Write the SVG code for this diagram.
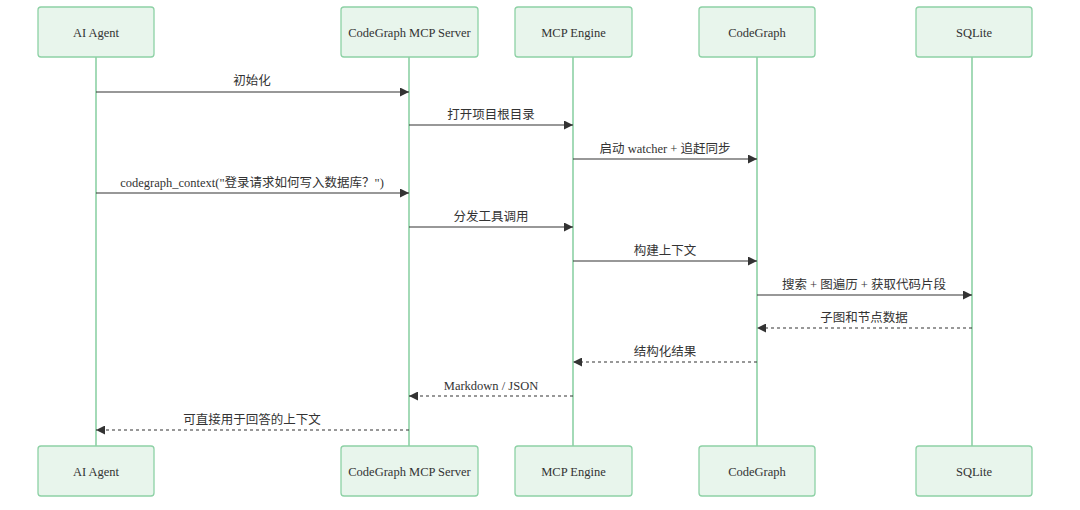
<svg xmlns="http://www.w3.org/2000/svg" width="1080" height="510" viewBox="0 0 1080 510">
<style>
.box{fill:#e8f5ec;stroke:#8dd1a5;stroke-width:1.3}
.life{stroke:#8dd1a5;stroke-width:1.6}
.t{font-family:"Liberation Serif","Noto Sans CJK SC",serif;font-size:12.5px;fill:#333;text-anchor:middle}
.m{stroke:#333;stroke-width:1.2;fill:none}
.d{stroke-dasharray:3,3}
</style>
<defs>
<marker id="ah" viewBox="0 0 10 10" refX="10" refY="5" markerWidth="9" markerHeight="9" markerUnits="userSpaceOnUse" orient="auto"><path d="M0,0 L10,5 L0,10 z" fill="#333"/></marker>
</defs>
<rect width="1080" height="510" fill="#fff"/>
<g id="lifelines">
<line class="life" x1="96" y1="57" x2="96" y2="446"/>
<line class="life" x1="409" y1="57" x2="409" y2="446"/>
<line class="life" x1="573" y1="57" x2="573" y2="446"/>
<line class="life" x1="757" y1="57" x2="757" y2="446"/>
<line class="life" x1="972" y1="57" x2="972" y2="446"/>
</g>
<g id="agent">
<rect class="box" x="38" y="7" width="116" height="50" rx="3"/><text class="t" x="96" y="37">AI Agent</text>
<rect class="box" x="38" y="446" width="116" height="50" rx="3"/><text class="t" x="96" y="476">AI Agent</text>
</g>
<g id="server">
<rect class="box" x="341" y="7" width="137" height="50" rx="3"/><text class="t" x="409.5" y="37">CodeGraph MCP Server</text>
<rect class="box" x="341" y="446" width="137" height="50" rx="3"/><text class="t" x="409.5" y="476">CodeGraph MCP Server</text>
</g>
<g id="engine">
<rect class="box" x="515" y="7" width="117" height="50" rx="3"/><text class="t" x="573.5" y="37">MCP Engine</text>
<rect class="box" x="515" y="446" width="117" height="50" rx="3"/><text class="t" x="573.5" y="476">MCP Engine</text>
</g>
<g id="codegraph">
<rect class="box" x="699" y="7" width="116" height="50" rx="3"/><text class="t" x="757" y="37">CodeGraph</text>
<rect class="box" x="699" y="446" width="116" height="50" rx="3"/><text class="t" x="757" y="476">CodeGraph</text>
</g>
<g id="sqlite">
<rect class="box" x="916" y="7" width="116" height="50" rx="3"/><text class="t" x="974" y="37">SQLite</text>
<rect class="box" x="916" y="446" width="116" height="50" rx="3"/><text class="t" x="974" y="476">SQLite</text>
</g>
<g id="connectors">
<line class="m" x1="96" y1="92" x2="409" y2="92" marker-end="url(#ah)"/>
<text class="t" x="252" y="85">初始化</text>
<line class="m" x1="409" y1="125" x2="573" y2="125" marker-end="url(#ah)"/>
<text class="t" x="491" y="119">打开项目根目录</text>
<line class="m" x1="573" y1="159" x2="757" y2="159" marker-end="url(#ah)"/>
<text class="t" x="665" y="153">启动 watcher + 追赶同步</text>
<line class="m" x1="96" y1="193" x2="409" y2="193" marker-end="url(#ah)"/>
<text class="t" x="252" y="187">codegraph_context("登录请求如何写入数据库？")</text>
<line class="m" x1="409" y1="227" x2="573" y2="227" marker-end="url(#ah)"/>
<text class="t" x="491" y="221">分发工具调用</text>
<line class="m" x1="573" y1="261" x2="757" y2="261" marker-end="url(#ah)"/>
<text class="t" x="665" y="255">构建上下文</text>
<line class="m" x1="757" y1="295" x2="972" y2="295" marker-end="url(#ah)"/>
<text class="t" x="864" y="289">搜索 + 图遍历 + 获取代码片段</text>
<line class="m d" x1="972" y1="328" x2="757" y2="328" marker-end="url(#ah)"/>
<text class="t" x="864" y="322">子图和节点数据</text>
<line class="m d" x1="757" y1="362" x2="573" y2="362" marker-end="url(#ah)"/>
<text class="t" x="665" y="356">结构化结果</text>
<line class="m d" x1="573" y1="396" x2="409" y2="396" marker-end="url(#ah)"/>
<text class="t" x="491" y="390">Markdown / JSON</text>
<line class="m d" x1="409" y1="430" x2="96" y2="430" marker-end="url(#ah)"/>
<text class="t" x="252" y="424">可直接用于回答的上下文</text>
</g>
</svg>
